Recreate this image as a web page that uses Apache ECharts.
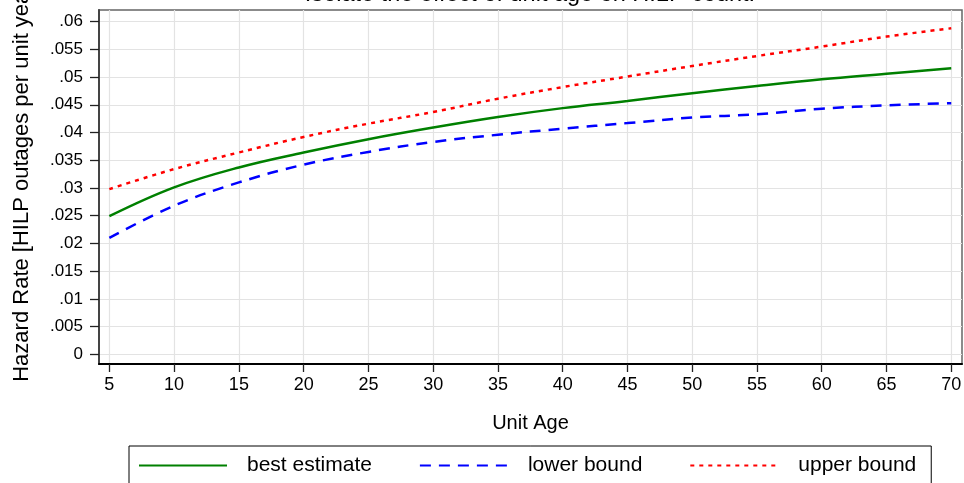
<!DOCTYPE html>
<html>
<head>
<meta charset="utf-8">
<script src="https://cdn.jsdelivr.net/npm/echarts@6/dist/echarts.min.js"></script>
<style>html,body{margin:0;padding:0;background:#fff}#c{width:964px;height:483px}</style>
</head>
<body>
<div id="c"></div>
<script>
const ages = [5, 10, 15, 20, 25, 30, 35, 40, 45, 50, 55, 60, 65, 70];
const bestEstimate = [0.0249, 0.0301, 0.0337, 0.0364, 0.0388, 0.0409, 0.0428, 0.0444, 0.0457, 0.0471, 0.0484, 0.0496, 0.0506, 0.0516];
const lowerBound   = [0.0210, 0.0268, 0.0310, 0.0342, 0.0365, 0.0383, 0.0396, 0.0407, 0.0417, 0.0427, 0.0433, 0.0443, 0.0449, 0.0453];
const upperBound   = [0.0298, 0.0334, 0.0364, 0.0392, 0.0416, 0.0437, 0.0461, 0.0482, 0.0501, 0.0520, 0.0538, 0.0555, 0.0573, 0.0588];
const xTicks = [5, 10, 15, 20, 25, 30, 35, 40, 45, 50, 55, 60, 65, 70];
const yTicks = [0, 0.005, 0.01, 0.015, 0.02, 0.025, 0.03, 0.035, 0.04, 0.045, 0.05, 0.055, 0.06];
const titleText = 'Isolate the effect of unit age on HILP count.';
const xName = 'Unit Age';
const yName = 'Hazard Rate [HILP outages per unit year]';
const seriesNames = ['best estimate', 'lower bound', 'upper bound'];

const FONT = '"Liberation Sans", Arial, sans-serif';
const pair = arr => ages.map((a, i) => [a, arr[i]]);
const fmtY = v => v === 0 ? '0' : String(+v.toFixed(4)).replace(/^0/, '');

const chart = echarts.init(document.getElementById('c'), null, {renderer: 'canvas'});
chart.setOption({
  animation: false,
  backgroundColor: '#fff',
  textStyle: {fontFamily: FONT},
  title: {
    text: titleText, left: 530, textAlign: 'center', top: -17, padding: 0,
    textStyle: {fontFamily: FONT, fontSize: 23.5, fontWeight: 'normal', color: '#000'}
  },
  grid: {left: 99, right: 2, top: 10, bottom: 119, containLabel: false, outerBoundsMode: 'none',
         show: true, borderColor: '#666', borderWidth: 1.5},
  xAxis: {
    type: 'value', min: 4.2, max: 70.83,
    name: xName, nameLocation: 'middle', nameGap: 49,
    nameTextStyle: {fontFamily: FONT, fontSize: 20, color: '#000'},
    axisLine: {show: true, onZero: false, lineStyle: {color: '#000', width: 2}},
    axisTick: {show: true, length: 8, customValues: xTicks, lineStyle: {color: '#222', width: 1.3}},
    axisLabel: {customValues: xTicks, margin: 12, fontFamily: FONT, fontSize: 18, color: '#000'},
    splitLine: {show: true, lineStyle: {color: '#e3e3e3', width: 1.2}}
  },
  yAxis: {
    type: 'value', min: -0.00175, max: 0.0621,
    name: yName, nameLocation: 'middle', nameGap: 66, nameRotate: 90,
    nameTextStyle: {fontFamily: FONT, fontSize: 22, color: '#000', padding: [0, 0, 0, 14]},
    axisLine: {show: true, onZero: false, lineStyle: {color: '#444', width: 2}},
    axisTick: {show: true, length: 9, customValues: yTicks, lineStyle: {color: '#222', width: 1.3}},
    axisLabel: {customValues: yTicks, margin: 16, formatter: fmtY, fontFamily: FONT, fontSize: 17, color: '#000'},
    splitLine: {show: true, lineStyle: {color: '#e3e3e3', width: 1.2}}
  },
  legend: {
    left: 129, top: 446, orient: 'horizontal',
    padding: [9, 15, 12, 9],
    borderColor: '#000', borderWidth: 1,
    itemWidth: 88, itemHeight: 14, itemGap: 47,
    itemStyle: {opacity: 0},
    data: seriesNames,
    textStyle: {fontFamily: FONT, fontSize: 21, color: '#000', padding: [0, 0, 0, 15]}
  },
  series: [
    {
      name: seriesNames[0], type: 'line', data: pair(bestEstimate), smooth: 0.4,
      symbol: 'none', lineStyle: {color: '#008000', width: 2.5, type: 'solid'}, itemStyle: {color: '#008000'}
    },
    {
      name: seriesNames[1], type: 'line', data: pair(lowerBound), smooth: 0.4,
      symbol: 'none', lineStyle: {color: '#0000ff', width: 2.5, type: [11, 8]}, itemStyle: {color: '#0000ff'}
    },
    {
      name: seriesNames[2], type: 'line', data: pair(upperBound), smooth: 0.4,
      symbol: 'none', lineStyle: {color: '#ff0000', width: 2.5, type: [4, 5]}, itemStyle: {color: '#ff0000'}
    }
  ]
});
</script>
</body>
</html>
